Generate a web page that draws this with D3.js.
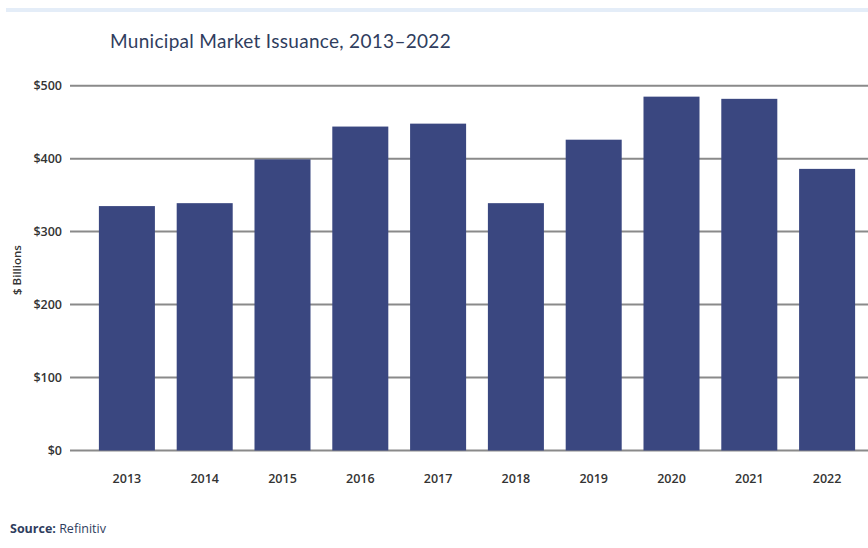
<!DOCTYPE html>
<html>
<head>
<meta charset="utf-8">
<script src="https://cdn.jsdelivr.net/npm/d3@7"></script>
<style>
  html, body { margin: 0; padding: 0; background: #fff; }
  svg { display: block; }
</style>
</head>
<body>
<svg id="chart" width="868" height="548"></svg>
<script>
const years = ["2013","2014","2015","2016","2017","2018","2019","2020","2021","2022"];
const issuance = [335, 339, 399, 444, 448, 339, 426, 485, 482, 386];
const yTicks = [0, 100, 200, 300, 400, 500];
const titleText = "Municipal Market Issuance, 2013\u20132022";
const yAxisLabel = "$ Billions";
const sourceLabel = "Source:";
const sourceText = " Refinitiv";

const svg = d3.select("#chart");
const W = 868, H = 548;

// top light rule
svg.append("rect").attr("x", 6).attr("y", 8).attr("width", W - 6).attr("height", 4).attr("fill", "#e4edf8");

svg.append("text")
  .attr("x", 110).attr("y", 48)
  .attr("font-family", "Lato, 'Open Sans', sans-serif")
  .attr("font-size", 19)
  .attr("letter-spacing", 0.3)
  .attr("fill", "#2f3d5e")
  .text(titleText);

const x = d3.scaleBand().domain(years).range([88, 866]).paddingInner(0.28).paddingOuter(0.14);
const y = d3.scaleLinear().domain([0, 500]).range([450.5, 85.7]);

// gridlines
const grid = svg.append("g");
grid.selectAll("line").data(yTicks).join("line")
  .attr("x1", 70).attr("x2", W)
  .attr("y1", d => y(d)).attr("y2", d => y(d))
  .attr("stroke", "#8a8a8a").attr("stroke-width", 2);

// y axis labels
const yAxis = d3.axisLeft(y).tickValues(yTicks).tickSize(0).tickPadding(0).tickFormat(d => "$" + d);
const ya = svg.append("g").attr("transform", "translate(62,0)").call(yAxis);
ya.select(".domain").remove();
ya.selectAll("text")
  .attr("font-family", "'Open Sans', sans-serif")
  .attr("font-size", 12.5).attr("font-weight", 600).attr("fill", "#333");

// bars
svg.append("g").selectAll("rect").data(years).join("rect")
  .attr("x", d => x(d))
  .attr("width", x.bandwidth())
  .attr("y", (d, i) => y(issuance[i]))
  .attr("height", (d, i) => y(0) - y(issuance[i]))
  .attr("fill", "#3a4780");

// x axis labels
const xAxis = d3.axisBottom(x).tickSize(0).tickPadding(0);
const xa = svg.append("g").attr("transform", "translate(0,474)").call(xAxis);
xa.select(".domain").remove();
xa.selectAll("text")
  .attr("font-family", "'Open Sans', sans-serif")
  .attr("font-size", 12.5).attr("font-weight", 600).attr("fill", "#333");

// y axis title
svg.append("text")
  .attr("transform", "translate(21,270) rotate(-90)")
  .attr("text-anchor", "middle")
  .attr("font-family", "'Open Sans', sans-serif")
  .attr("font-size", 11.5).attr("font-weight", 600).attr("fill", "#333")
  .text(yAxisLabel);

// source
const src = svg.append("text")
  .attr("x", 10).attr("y", 533)
  .attr("font-family", "'Open Sans', sans-serif")
  .attr("font-size", 12.5).attr("fill", "#2f3d5e");
src.append("tspan").attr("font-weight", 700).text(sourceLabel);
src.append("tspan").text(sourceText);
</script>
</body>
</html>
